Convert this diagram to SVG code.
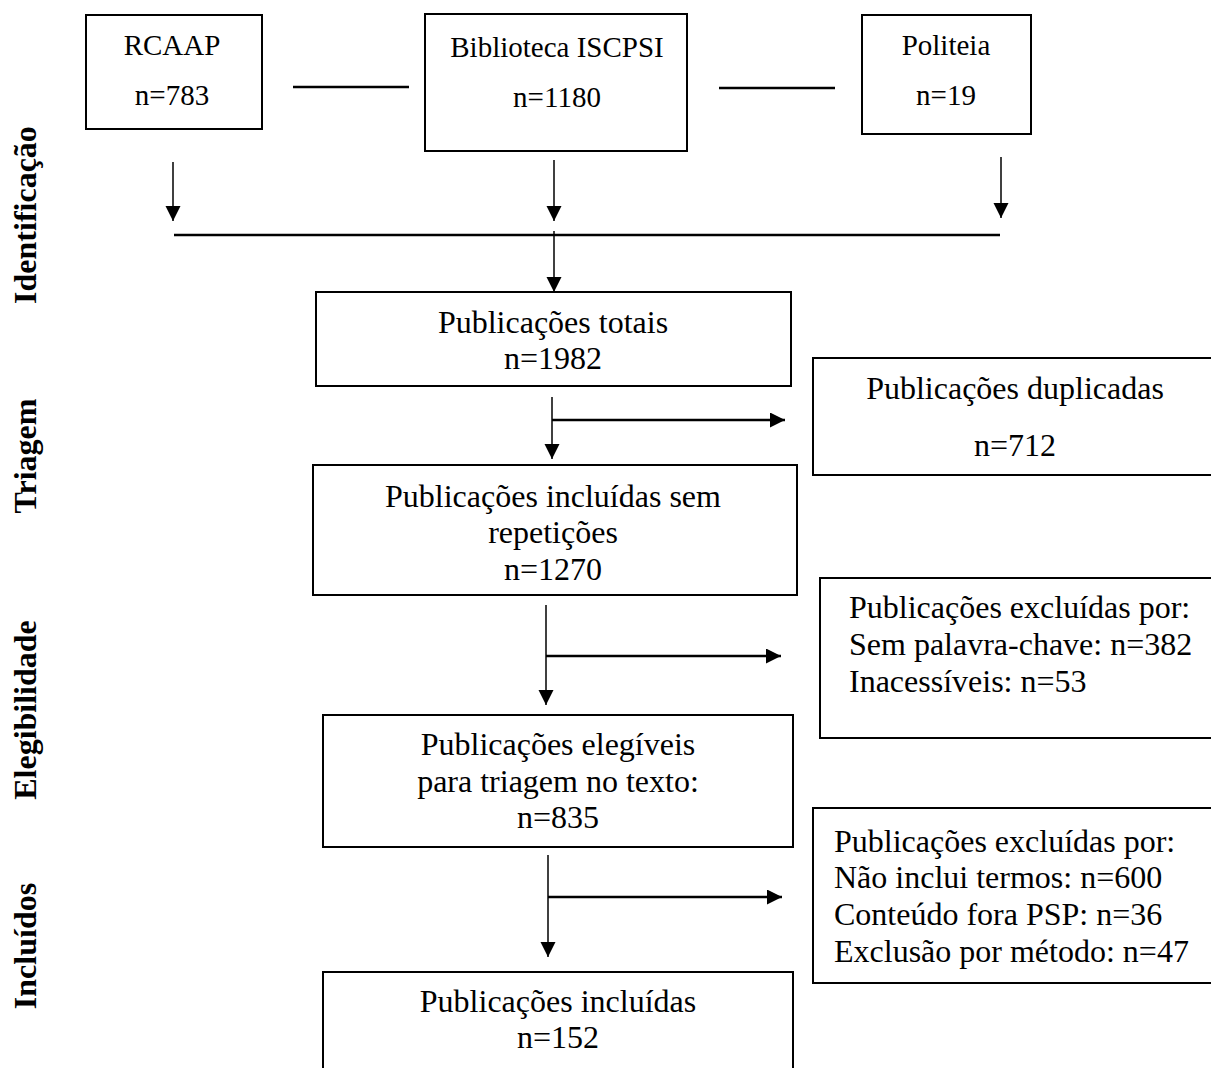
<svg xmlns="http://www.w3.org/2000/svg" width="1211" height="1068" viewBox="0 0 1211 1068">
<style>
  .box { fill: #fff; stroke: #000; stroke-width: 2; }
  .t { font-family: "Liberation Serif", "Times New Roman", serif; font-size: 32px; fill: #000; }
  .tc { text-anchor: middle; }
  .top { font-size: 29px; }
  .side { font-family: "Liberation Serif", "Times New Roman", serif; font-size: 32px; font-weight: bold; fill: #000; text-anchor: middle; }
  .ln { stroke: #000; stroke-width: 1.5; fill: none; }
  .thick { stroke: #000; stroke-width: 2.5; fill: none; }
</style>
<defs>
  <marker id="ah" markerUnits="userSpaceOnUse" markerWidth="16" markerHeight="16" refX="15" refY="7.5" orient="auto">
    <path d="M0,0 L15,7.5 L0,15 z" fill="#000"/>
  </marker>
</defs>
<rect width="1211" height="1068" fill="#fff"/>

<g id="labels">
  <text class="side" transform="translate(36,215) rotate(-90)">Identificação</text>
  <text class="side" transform="translate(36,456) rotate(-90)">Triagem</text>
  <text class="side" transform="translate(36,710) rotate(-90)">Elegibilidade</text>
  <text class="side" transform="translate(36,946) rotate(-90)">Incluídos</text>
</g>

<g id="connectors">
  <line class="thick" x1="293" y1="87" x2="409" y2="87"/>
  <line class="thick" x1="719" y1="88" x2="835" y2="88"/>
  <line class="ln" x1="173" y1="162" x2="173" y2="221" marker-end="url(#ah)"/>
  <line class="ln" x1="554" y1="160" x2="554" y2="221" marker-end="url(#ah)"/>
  <line class="ln" x1="1001" y1="157" x2="1001" y2="218" marker-end="url(#ah)"/>
  <line class="thick" x1="174" y1="235" x2="1000" y2="235"/>
  <line class="ln" x1="554" y1="231" x2="554" y2="292" marker-end="url(#ah)"/>
  <line class="ln" x1="552" y1="397" x2="552" y2="459" marker-end="url(#ah)"/>
  <line class="thick" x1="552" y1="420" x2="785" y2="420" marker-end="url(#ah)"/>
  <line class="ln" x1="546" y1="605" x2="546" y2="705" marker-end="url(#ah)"/>
  <line class="thick" x1="546" y1="656" x2="781" y2="656" marker-end="url(#ah)"/>
  <line class="ln" x1="548" y1="855" x2="548" y2="957" marker-end="url(#ah)"/>
  <line class="thick" x1="548" y1="897" x2="782" y2="897" marker-end="url(#ah)"/>
</g>

<g id="rcaap">
  <rect class="box" x="86" y="15" width="176" height="114"/>
  <text class="t top tc" x="172" y="55">RCAAP</text>
  <text class="t top tc" x="172" y="105">n=783</text>
</g>
<g id="biblioteca">
  <rect class="box" x="425" y="14" width="262" height="137"/>
  <text class="t top tc" x="557" y="57">Biblioteca ISCPSI</text>
  <text class="t top tc" x="557" y="107">n=1180</text>
</g>
<g id="politeia">
  <rect class="box" x="862" y="15" width="169" height="119"/>
  <text class="t top tc" x="946" y="55">Politeia</text>
  <text class="t top tc" x="946" y="105">n=19</text>
</g>

<g id="totais">
  <rect class="box" x="316" y="292" width="475" height="94"/>
  <text class="t tc" x="553" y="333">Publicações totais</text>
  <text class="t tc" x="553" y="369">n=1982</text>
</g>
<g id="duplicadas">
  <rect class="box" x="813" y="358" width="402" height="117"/>
  <text class="t tc" x="1015" y="399">Publicações duplicadas</text>
  <text class="t tc" x="1015" y="456">n=712</text>
</g>
<g id="sem-repeticoes">
  <rect class="box" x="313" y="465" width="484" height="130"/>
  <text class="t tc" x="553" y="507">Publicações incluídas sem</text>
  <text class="t tc" x="553" y="543">repetições</text>
  <text class="t tc" x="553" y="580">n=1270</text>
</g>
<g id="excluidas1">
  <rect class="box" x="820" y="578" width="395" height="160"/>
  <text class="t" x="849" y="618">Publicações excluídas por:</text>
  <text class="t" x="849" y="655">Sem palavra-chave: n=382</text>
  <text class="t" x="849" y="692">Inacessíveis: n=53</text>
</g>
<g id="elegiveis">
  <rect class="box" x="323" y="715" width="470" height="132"/>
  <text class="t tc" x="558" y="755">Publicações elegíveis</text>
  <text class="t tc" x="558" y="792">para triagem no texto:</text>
  <text class="t tc" x="558" y="828">n=835</text>
</g>
<g id="excluidas2">
  <rect class="box" x="813" y="808" width="402" height="175"/>
  <text class="t" x="834" y="852">Publicações excluídas por:</text>
  <text class="t" x="834" y="888">Não inclui termos: n=600</text>
  <text class="t" x="834" y="925">Conteúdo fora PSP: n=36</text>
  <text class="t" x="834" y="962">Exclusão por método: n=47</text>
</g>
<g id="incluidas">
  <rect class="box" x="323" y="972" width="470" height="110"/>
  <text class="t tc" x="558" y="1012">Publicações incluídas</text>
  <text class="t tc" x="558" y="1048">n=152</text>
</g>
</svg>
